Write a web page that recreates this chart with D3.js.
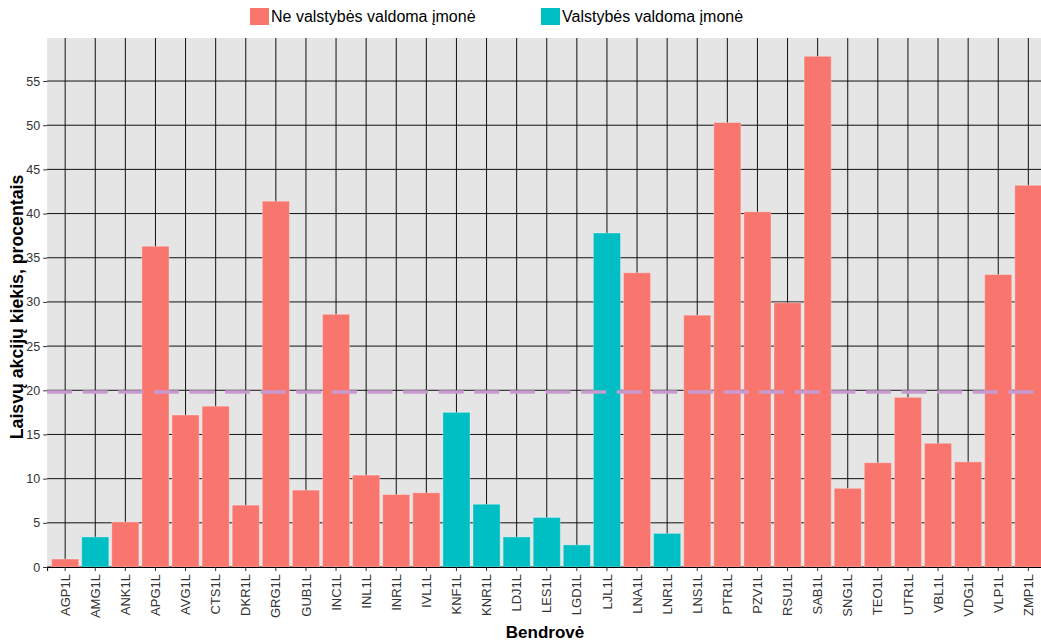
<!DOCTYPE html>
<html>
<head>
<meta charset="utf-8">
<script src="https://cdn.jsdelivr.net/npm/d3@7"></script>
<style>
  body { margin: 0; background: #fff; }
  svg { font-family: "Liberation Sans", Arial, sans-serif; }
</style>
</head>
<body>
<svg width="1041" height="643"></svg>
<script>
var companies = ["AGP1L", "AMG1L", "ANK1L", "APG1L", "AVG1L", "CTS1L", "DKR1L", "GRG1L", "GUB1L", "INC1L",
    "INL1L", "INR1L", "IVL1L", "KNF1L", "KNR1L", "LDJ1L", "LES1L", "LGD1L", "LJL1L", "LNA1L", "LNR1L",
    "LNS1L", "PTR1L", "PZV1L", "RSU1L", "SAB1L", "SNG1L", "TEO1L", "UTR1L", "VBL1L", "VDG1L", "VLP1L", "ZMP1L"];
var freeFloat = [0.9, 3.4, 5.1, 36.3, 17.2, 18.2, 7.0, 41.4, 8.7, 28.6,
    10.4, 8.2, 8.4, 17.5, 7.1, 3.4, 5.6, 2.5, 37.8, 33.3, 3.8,
    28.5, 50.3, 40.2, 29.9, 57.8, 8.9, 11.8, 19.2, 14.0, 11.9, 33.1, 43.2];
var stateOwned = ["AMG1L", "KNF1L", "KNR1L", "LDJ1L", "LES1L", "LGD1L", "LJL1L", "LNR1L"];
var groups = ["Ne valstybės valdoma įmonė", "Valstybės valdoma įmonė"];
var groupColors = ["#F8766D", "#00BFC4"];
var yTicks = [0, 5, 10, 15, 20, 25, 30, 35, 40, 45, 50, 55];
var threshold = 19.8;

var svg = d3.select('svg');

var panel = {left: 47.1, right: 1046.4, top: 38, bottom: 567};

var x = d3.scaleBand()
    .domain(companies)
    .range([panel.left, panel.right])
    .paddingInner(0.1)
    .paddingOuter(0.15);

var y = d3.scaleLinear()
    .domain([0, 59.87])
    .range([panel.bottom, panel.top]);

var color = d3.scaleOrdinal().domain(groups).range(groupColors);

var data = companies.map(function(c, i) {
    return {
        name: c,
        value: freeFloat[i],
        group: stateOwned.indexOf(c) >= 0 ? groups[1] : groups[0]
    };
});

// panel background
svg.append('rect')
    .attr('x', panel.left)
    .attr('y', panel.top)
    .attr('width', panel.right - panel.left)
    .attr('height', panel.bottom - panel.top)
    .attr('fill', '#e5e5e5');

// grid
var grid = svg.append('g').attr('stroke', '#111').attr('stroke-width', 1);
grid.selectAll('line.h')
    .data(yTicks)
    .enter()
    .append('line')
    .attr('class', 'h')
    .attr('x1', panel.left)
    .attr('x2', panel.right)
    .attr('y1', function(d) { return y(d); })
    .attr('y2', function(d) { return y(d); });
grid.selectAll('line.v')
    .data(companies)
    .enter()
    .append('line')
    .attr('class', 'v')
    .attr('y1', panel.top)
    .attr('y2', panel.bottom)
    .attr('x1', function(d) { return x(d) + x.bandwidth() / 2; })
    .attr('x2', function(d) { return x(d) + x.bandwidth() / 2; });

// bars
svg.append('g')
    .selectAll('rect')
    .data(data)
    .enter()
    .append('rect')
    .attr('x', function(d) { return x(d.name); })
    .attr('width', x.bandwidth())
    .attr('y', function(d) { return y(d.value); })
    .attr('height', function(d) { return y(0) - y(d.value); })
    .attr('fill', function(d) { return color(d.group); })
    .attr('stroke', 'rgba(255,255,255,0.3)')
    .attr('stroke-width', 1);

// threshold line
svg.append('line')
    .attr('x1', panel.left)
    .attr('x2', panel.right)
    .attr('y1', y(threshold))
    .attr('y2', y(threshold))
    .attr('stroke', '#C99ACF')
    .attr('stroke-width', 3.5)
    .attr('stroke-dasharray', '25,10.6');

// axes
var yAxis = svg.append('g')
    .attr('transform', 'translate(' + panel.left + ',0)')
    .call(d3.axisLeft(y).tickValues(yTicks).tickSize(4).tickPadding(3));
yAxis.select('.domain').remove();
yAxis.selectAll('line').attr('stroke', '#333');
yAxis.selectAll('text').attr('fill', '#333').style('font-size', '12.5px');

var xAxis = svg.append('g')
    .attr('transform', 'translate(0,' + panel.bottom + ')')
    .call(d3.axisBottom(x).tickSize(4).tickPadding(3));
xAxis.select('.domain').attr('stroke', '#000');
xAxis.selectAll('line').attr('stroke', '#333');
xAxis.selectAll('text')
    .attr('fill', '#333')
    .style('font-size', '13px')
    .attr('text-anchor', 'end')
    .attr('dy', '0.35em')
    .attr('transform', 'translate(0,7) rotate(-90)')
    .attr('x', 0)
    .attr('y', 0);

// axis titles
svg.append('text')
    .attr('x', 545)
    .attr('y', 638)
    .attr('text-anchor', 'middle')
    .style('font-size', '17px')
    .style('font-weight', 'bold')
    .text('Bendrovė');

svg.append('text')
    .attr('transform', 'translate(23,' + 307 + ') rotate(-90)')
    .attr('text-anchor', 'middle')
    .style('font-size', '17.7px')
    .style('font-weight', 'bold')
    .text('Laisvų akcijų kiekis, procentais');

// legend
var legendX = [250, 541];
var legend = svg.append('g');
legend.selectAll('rect')
    .data(groups)
    .enter()
    .append('rect')
    .attr('x', function(d, i) { return legendX[i]; })
    .attr('y', 8)
    .attr('width', 19)
    .attr('height', 17)
    .attr('fill', function(d) { return color(d); });
legend.selectAll('text')
    .data(groups)
    .enter()
    .append('text')
    .attr('x', function(d, i) { return legendX[i] + 21; })
    .attr('y', 22)
    .style('font-size', '16px')
    .attr('fill', '#000')
    .text(function(d) { return d; });
</script>
</body>
</html>
